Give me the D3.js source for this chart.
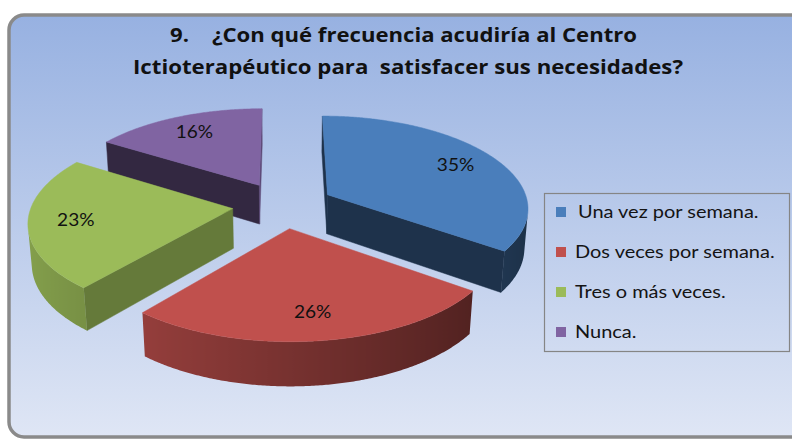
<!DOCTYPE html>
<html>
<head>
<meta charset="utf-8">
<script src="https://cdn.jsdelivr.net/npm/d3@7"></script>
<style>
  html, body { margin: 0; padding: 0; background: #ffffff; }
  svg { display: block; }
</style>
</head>
<body>
<div id="chart"></div>
<script>
// chart data
const categories = ["Una vez por semana.", "Dos veces por semana.", "Tres o más veces.", "Nunca."];
const values = [35, 26, 23, 16];
const sliceColors = ["#4a7ebb", "#c0504d", "#9bbb59", "#8064a2"];
const titleLines = ["9.    ¿Con qué frecuencia acudiría al Centro", "Ictioterapéutico para  satisfacer sus necesidades?"];

const W = 792, H = 442;
const svg = d3.select("#chart").append("svg")
  .attr("width", W)
  .attr("height", H);

const defs = svg.append("defs");

// background panel gradient
const bg = defs.append("linearGradient")
  .attr("id", "bg").attr("x1", 0).attr("y1", 0).attr("x2", 0).attr("y2", 1);
bg.append("stop").attr("offset", 0).attr("stop-color", "#97b1e1");
bg.append("stop").attr("offset", 1).attr("stop-color", "#dfe6f5");

svg.append("rect")
  .attr("x", 9).attr("y", 15)
  .attr("width", 810).attr("height", 422)
  .attr("rx", 15).attr("ry", 15)
  .attr("fill", "url(#bg)")
  .attr("stroke", "#8a8a8a")
  .attr("stroke-width", 3.5);

// title, two centred lines squeezed to the reference widths
const titleBox = [{cx: 403.5, w: 467}, {cx: 408, w: 550}];
svg.selectAll(".title")
  .data(titleLines)
  .enter().append("text")
  .attr("class", "title")
  .attr("x", (d, i) => titleBox[i].cx)
  .attr("y", (d, i) => 42 + i * 32)
  .attr("text-anchor", "middle")
  .attr("textLength", (d, i) => titleBox[i].w)
  .attr("lengthAdjust", "spacingAndGlyphs")
  .style("font-family", "'Open Sans', Lato, sans-serif")
  .style("font-weight", "bold")
  .style("font-size", "19px")
  .style("white-space", "pre")
  .attr("fill", "#111111")
  .text(d => d);

// --- 3D pie projection ---
const cx = 283, cy = 205;     // screen position of pie centre (top face)
const F = 201;                // pixels per unit radius
const sinT = 0.455, cosT = Math.sqrt(1 - sinT * sinT); // view elevation
const D = 6.8;                // camera distance (perspective)
const depth = 0.224;          // pie thickness
const explode = 0.252;        // explosion offset
const labelR = 0.77;
const cam = [0, D * sinT, D * cosT];

function project(X, Y, Z) {
  const zc = Y * sinT + Z * cosT;
  const yc = Y * cosT - Z * sinT;
  const s = D / (D - zc);
  return [cx + F * X * s, cy - F * yc * s];
}

function shade(color, k) {
  const c = d3.rgb(color);
  return d3.rgb(c.r * k, c.g * k, c.b * k).formatHex();
}

function visible(n, p) {
  return n[0] * (cam[0] - p[0]) + n[1] * (cam[1] - p[1]) + n[2] * (cam[2] - p[2]) > 0;
}

const pie = d3.pie().sort(null).value(d => d)(values);

const slices = pie.map((p, i) => {
  const mid = (p.startAngle + p.endAngle) / 2;
  return {
    i: i,
    a0: p.startAngle,
    a1: p.endAngle,
    mid: mid,
    ox: explode * Math.sin(mid),
    oz: -explode * Math.cos(mid),
    color: sliceColors[i]
  };
});

// world point of a slice at angle a, radius r, height y
function pt(sl, a, r, y) {
  return [sl.ox + r * Math.sin(a), y, sl.oz - r * Math.cos(a)];
}
const P = w => project(w[0], w[1], w[2]);

const line = d3.line();
const pieG = svg.append("g");

// back slices first
const order = slices.slice().sort((a, b) => a.oz - b.oz);

order.forEach(sl => {
  const g = pieG.append("g");
  const step = Math.PI / 360;
  const n = Math.max(2, Math.ceil((sl.a1 - sl.a0) / step));
  const angles = d3.range(n + 1).map(k => sl.a0 + (sl.a1 - sl.a0) * k / n);

  // radial walls
  [[sl.a0, -1], [sl.a1, 1]].forEach(([a, sgn]) => {
    const nrm = [sgn * Math.cos(a), 0, sgn * Math.sin(a)];
    const centre = pt(sl, a, 0.5, -depth / 2);
    if (!visible(nrm, centre)) return;
    const poly = [pt(sl, a, 0, 0), pt(sl, a, 1, 0), pt(sl, a, 1, -depth), pt(sl, a, 0, -depth)].map(P);
    const k = 0.4 + 0.33 * Math.max(0, nrm[0]);
    g.append("path")
      .attr("d", line(poly) + "Z")
      .attr("fill", shade(sl.color, k))
      .attr("stroke", shade(sl.color, k))
      .attr("stroke-width", 0.5);
  });

  // outer wall, only the part that faces the camera
  const vis = angles.filter(a => visible([Math.sin(a), 0, -Math.cos(a)], pt(sl, a, 1, -depth / 2)));
  if (vis.length > 1) {
    const top = vis.map(a => P(pt(sl, a, 1, 0)));
    const bot = vis.map(a => P(pt(sl, a, 1, -depth))).reverse();
    const xs = top.map(p => p[0]);
    const x0 = d3.min(xs), x1 = d3.max(xs);
    const gid = "wall" + sl.i;
    const grad = defs.append("linearGradient")
      .attr("id", gid)
      .attr("gradientUnits", "userSpaceOnUse")
      .attr("x1", x0).attr("y1", 0).attr("x2", x1).attr("y2", 0);
    const stops = vis.map((a, k) => ({
      off: (xs[k] - x0) / (x1 - x0 || 1),
      col: shade(sl.color, 0.62 - 0.24 * Math.sin(a))
    })).sort((a, b) => a.off - b.off);
    grad.selectAll("stop").data(stops).enter().append("stop")
      .attr("offset", d => d.off)
      .attr("stop-color", d => d.col);
    g.append("path")
      .attr("d", line(top.concat(bot)) + "Z")
      .attr("fill", `url(#${gid})`);
  }

  // top face
  const topPoly = [P(pt(sl, 0, 0, 0))].concat(angles.map(a => P(pt(sl, a, 1, 0))));
  g.append("path")
    .attr("d", line(topPoly) + "Z")
    .attr("fill", sl.color)
    .attr("stroke", sl.color)
    .attr("stroke-width", 0.5);
});

// percentage labels
const total = d3.sum(values);
slices.forEach(sl => {
  const p = P(pt(sl, sl.mid, labelR, 0));
  svg.append("text")
    .attr("transform", `translate(${p[0]},${p[1]}) scale(1.06,1)`)
    .attr("text-anchor", "middle")
    .attr("dy", "0.36em")
    .style("font-family", "Lato, 'Open Sans', sans-serif")
    .style("font-size", "18px")
    .attr("fill", "#111111")
    .text(Math.round(values[sl.i] / total * 100) + "%");
});

// legend
const stretch = 1.11;
const legend = svg.append("g");
legend.append("rect")
  .attr("x", 544.5).attr("y", 193.5)
  .attr("width", 245).attr("height", 158)
  .attr("fill", "none")
  .attr("stroke", "#858585")
  .attr("stroke-width", 1.2);

const rows = legend.selectAll(".row")
  .data(categories)
  .enter().append("g")
  .attr("class", "row")
  .attr("transform", (d, i) => `translate(556,${212 + i * 40})`);

rows.append("rect")
  .attr("x", 0).attr("y", -5)
  .attr("width", 10).attr("height", 10)
  .attr("fill", (d, i) => sliceColors[i]);

rows.append("text")
  .attr("transform", (d, i) => `translate(${i === 0 ? 22 : 19},0) scale(${stretch},1)`)
  .attr("dy", "0.36em")
  .style("font-family", "Lato, 'Open Sans', sans-serif")
  .style("font-size", "18px")
  .attr("fill", "#141414")
  .text(d => d);
</script>
</body>
</html>
